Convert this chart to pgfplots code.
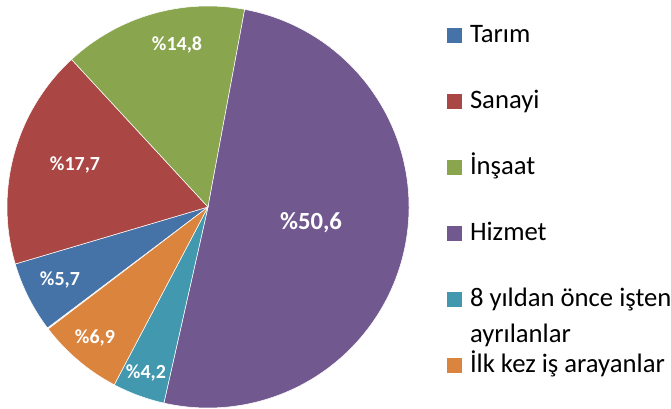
\documentclass[border=0pt]{standalone}
\usepackage{pgfplots}
\pgfplotsset{compat=1.18}
\usepackage{pgfplotstable}
\usepackage{fontspec}
\setmainfont{Carlito}
\definecolor{cTarim}{HTML}{4572A7}
\definecolor{cSanayi}{HTML}{AA4643}
\definecolor{cInsaat}{HTML}{89A54E}
\definecolor{cHizmet}{HTML}{71588F}
\definecolor{cSekiz}{HTML}{4198AF}
\definecolor{cIlk}{HTML}{DB843D}
% value, slice colour, label position (px, y up), label size (pt)
\pgfplotstableread{
value color   lx  ly  fs
5.7   cTarim  60  129 15
17.7  cSanayi 75  244 15
14.8  cInsaat 177 364 15
50.6  cHizmet 311 186 18.5
4.2   cSekiz  146 36  15
6.9   cIlk    95  71  15
}\piedata
\begin{document}
\begin{tikzpicture}
\begin{axis}[name=ax, scale only axis, width=503.25pt, height=306.75pt,
  xmin=0, xmax=671, ymin=0, ymax=409, hide axis, clip=false,
  legend style={draw=none, fill=none, at={(axis cs:447,386)}, anchor=north west,
    inner sep=0pt, outer sep=0pt, row sep=29.5pt, column sep=6pt,
    nodes={inner sep=0pt, outer sep=0pt, text height=15pt, text depth=5pt},
    cells={anchor=base west},
    font=\fontsize{20}{26.5}\selectfont},
  legend image code/.code={\fill[#1, draw=none] (0pt,0pt) rectangle (11.25pt,11.25pt);},
]
\pgfplotstablegetrowsof{\piedata}
\pgfmathtruncatemacro\nrows{\pgfplotsretval-1}
\def\cum{0}
\pgfplotsforeachungrouped \i in {0,...,\nrows}{%
  \pgfplotstablegetelem{\i}{value}\of\piedata \let\sval\pgfplotsretval
  \pgfplotstablegetelem{\i}{color}\of\piedata \let\scol\pgfplotsretval
  \pgfmathsetmacro\sa{217-3.6*\cum}%
  \pgfmathsetmacro\sb{217-3.6*(\cum+\sval)}%
  \pgfmathsetmacro\px{208+201*cos(\sa)}%
  \pgfmathsetmacro\py{202+201*sin(\sa)}%
  \edef\temp{\noexpand\fill[fill=\scol, draw=white, line width=0.4pt]
    (axis cs:208,202) -- (axis cs:\px,\py)
    arc[start angle=\sa, end angle=\sb, radius=150.75pt] -- cycle;}%
  \temp
  \pgfmathsetmacro\cum{\cum+\sval}%
}
\pgfplotsforeachungrouped \i in {0,...,\nrows}{%
  \pgfplotstablegetelem{\i}{value}\of\piedata \let\sval\pgfplotsretval
  \pgfplotstablegetelem{\i}{lx}\of\piedata \let\slx\pgfplotsretval
  \pgfplotstablegetelem{\i}{ly}\of\piedata \let\sly\pgfplotsretval
  \pgfplotstablegetelem{\i}{fs}\of\piedata \let\sfs\pgfplotsretval
  \edef\temp{\noexpand\node[text=white, inner sep=0pt,
    font=\noexpand\bfseries\noexpand\fontsize{\sfs}{\sfs}\noexpand\selectfont]
    at (axis cs:\slx,\sly) {\noexpand\%\noexpand\pgfmathprintnumber[use comma, fixed, fixed zerofill, precision=1, assume math mode=true]{\sval}};}%
  \temp
}
\addlegendimage{fill=cTarim}\addlegendentry{Tarım}
\addlegendimage{fill=cSanayi}\addlegendentry{Sanayi}
\addlegendimage{fill=cInsaat}\addlegendentry{İnşaat}
\addlegendimage{fill=cHizmet}\addlegendentry{Hizmet}
\addlegendimage{fill=cSekiz}\addlegendentry{\begin{tabular}[t]{@{}l@{}}8 yıldan önce işten\\ayrılanlar\end{tabular}}
\addlegendimage{fill=cIlk}\addlegendentry{İlk kez iş arayanlar}
\end{axis}
\pgfresetboundingbox
\useasboundingbox (ax.south west) rectangle (ax.north east);
\end{tikzpicture}
\end{document}
